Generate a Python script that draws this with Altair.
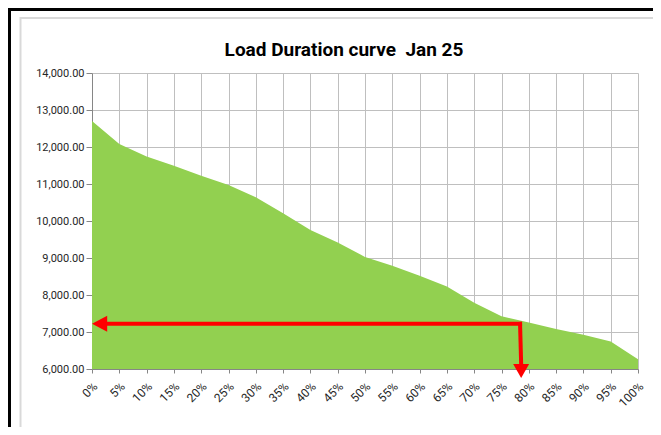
import altair as alt
import pandas as pd

# ---- data ----
pct = [0, 5, 10, 15, 20, 25, 30, 35, 40, 45, 50, 55, 60, 65, 70, 75, 80, 85, 90, 95, 100]
load = [12700, 12080, 11740, 11490, 11220, 10975, 10640, 10210, 9760, 9420,
        9030, 8790, 8520, 8230, 7790, 7425, 7260, 7080, 6925, 6745, 6265]
y_ticks = [6000, 7000, 8000, 9000, 10000, 11000, 12000, 13000, 14000]
title_text = "Load Duration curve\u00a0 Jan 25"

# red annotation arrows (duration %, load)
h_arrow_x = [1.5, 78.4]
h_arrow_y = [7220, 7220]
v_arrow_x = [78.4, 78.6]
v_arrow_y = [7220, 6130]
head_left = (0.0, 7220)
head_down = (78.6, 5760)

FONT = "Roboto, sans-serif"
GREEN = "#92D050"
RED = "#FF0000"

df = pd.DataFrame({"pct": pct, "load": load})

xs = alt.Scale(domain=[0, 100], nice=False)
ys = alt.Scale(domain=[6000, 14000], nice=False, zero=False)

xa = alt.Axis(
    values=pct, labelExpr="datum.value + '%'", labelAngle=315,
    labelAlign="right", labelBaseline="middle", labelPadding=11, labelOffset=3,
    labelOverlap=False, labelFlush=False,
    grid=True, gridColor="#bfbfbf", gridWidth=1,
    domainColor="#868686", tickColor="#868686", tickSize=4,
    labelFont=FONT, labelFontSize=12, labelColor="#262626",
    title=None)
ya = alt.Axis(
    values=y_ticks, format=",.2f", labelOverlap=False, labelFlush=False,
    grid=True, gridColor="#bfbfbf", gridWidth=1,
    domainColor="#868686", tickColor="#868686", tickSize=6,
    labelFont=FONT, labelFontSize=11, labelColor="#262626", labelPadding=2,
    title=None)


def xe(f):
    return alt.X(f, scale=xs, axis=xa)


def ye(f):
    return alt.Y(f, scale=ys, axis=ya)


area = alt.Chart(df).mark_area(color=GREEN, opacity=1).encode(
    x=xe("pct:Q"), y=ye("load:Q"), y2=alt.datum(6000))

hdf = pd.DataFrame({"x": [h_arrow_x[0]], "x2": [h_arrow_x[1]], "y": [h_arrow_y[0]], "y2": [h_arrow_y[1]]})
vdf = pd.DataFrame({"x": [v_arrow_x[0]], "x2": [v_arrow_x[1]], "y": [v_arrow_y[0]], "y2": [v_arrow_y[1]]})

h_rule = alt.Chart(hdf).mark_rule(color=RED, strokeWidth=4, strokeCap="square").encode(
    x=xe("x:Q"), x2="x2:Q", y=ye("y:Q"), y2="y2:Q")
v_rule = alt.Chart(vdf).mark_rule(color=RED, strokeWidth=4, strokeCap="square").encode(
    x=xe("x:Q"), x2="x2:Q", y=ye("y:Q"), y2="y2:Q")

lh = pd.DataFrame({"x": [head_left[0]], "y": [head_left[1]]})
dh = pd.DataFrame({"x": [head_down[0]], "y": [head_down[1]]})
left_head = alt.Chart(lh).mark_point(
    shape="M0,0 L1.9,-1 L1.9,1 Z", filled=True, fill=RED, color=RED, opacity=1, size=256, strokeWidth=0
).encode(x=xe("x:Q"), y=ye("y:Q"))
down_head = alt.Chart(dh).mark_point(
    shape="M0,0 L-1,-1.75 L1,-1.75 Z", filled=True, fill=RED, color=RED, opacity=1, size=256, strokeWidth=0
).encode(x=xe("x:Q"), y=ye("y:Q"))

one = alt.Data(values=[{"t": title_text}])
title = alt.Chart(one).mark_text(
    font=FONT, fontSize=19, fontWeight="bold", color="#000000", align="center", baseline="alphabetic"
).encode(text="t:N", x=alt.value(252), y=alt.value(-17))

frame = alt.Chart(one).mark_rect(filled=False, stroke="#d9d9d9", strokeWidth=2).encode(
    x=alt.value(-71.5), x2=alt.value(700), y=alt.value(-55), y2=alt.value(500))
black_top = alt.Chart(one).mark_rule(color="#000000", strokeWidth=3).encode(
    x=alt.value(-84), x2=alt.value(600), y=alt.value(-63.5))
black_left = alt.Chart(one).mark_rule(color="#000000", strokeWidth=3).encode(
    x=alt.value(-82.5), y=alt.value(-65), y2=alt.value(400))

chart = alt.layer(frame, black_top, black_left, area, h_rule, v_rule, left_head, down_head, title).properties(
    width=546, height=296,
    autosize=alt.AutoSizeParams(type="none"),
    padding={"left": 84, "top": 65, "right": 15, "bottom": 58},
    background="white",
).configure_view(strokeWidth=0)

chart.save("out.html", embed_options={"renderer": "svg", "actions": False})
